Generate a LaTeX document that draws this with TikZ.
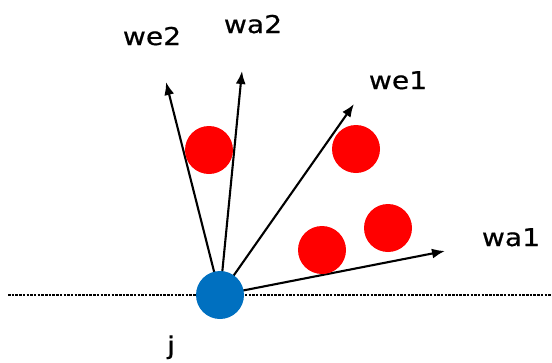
\documentclass[tikz,border=0pt]{standalone}
\usepackage{fontspec}
\newfontfamily\lblfont[FakeStretch=1.15,FakeBold=0.6]{DejaVu Sans}
\usetikzlibrary{arrows.meta}
\definecolor{nodeblue}{HTML}{0070C0}
\definecolor{dotred}{HTML}{FF0000}
\begin{document}
\begin{tikzpicture}[x=1pt,y=-1pt,
  vec/.style={line width=2.1pt,-{Latex[length=13pt,width=10pt]}},
  lbl/.style={font=\lblfont\fontsize{24.5}{24.5}\selectfont,anchor=base,inner sep=0pt},
  sample/.style={circle,fill=dotred,minimum size=48pt,inner sep=0pt},
  origin/.style={circle,fill=nodeblue,minimum size=48pt,inner sep=0pt}]
\useasboundingbox (0,0) rectangle (552,362);
% axis
\coordinate (axL) at (8,295);
\coordinate (axR) at (552,295);
\draw[line width=1.3pt,dash pattern=on 2.5pt off 1.2pt] (axL) -- (axR);
% vector tips
\coordinate (c) at (220,295);
\coordinate (twe2) at (166,82);
\coordinate (twa2) at (242,71);
\coordinate (twe1) at (354,104);
\coordinate (twa1) at (445,251);
\draw[vec] (c) -- (twe2);
\draw[vec] (c) -- (twa2);
\draw[vec] (c) -- (twe1);
\draw[vec] (c) -- (twa1);
% samples
\node[sample] (r1) at (209,150) {};
\node[sample] (r2) at (356,149) {};
\node[sample] (r3) at (322,250) {};
\node[sample] (r4) at (388,228) {};
% origin node
\node[origin] (j) at (c) {};
% labels
\node[lbl] (lwe2) at (152,45) {we2};
\node[lbl] (lwa2) at (253,33) {wa2};
\node[lbl] (lwe1) at (398,89) {we1};
\node[lbl] (lwa1) at (511,246) {wa1};
\node[lbl] (lj) at (171,354) {j};
\end{tikzpicture}
\end{document}
